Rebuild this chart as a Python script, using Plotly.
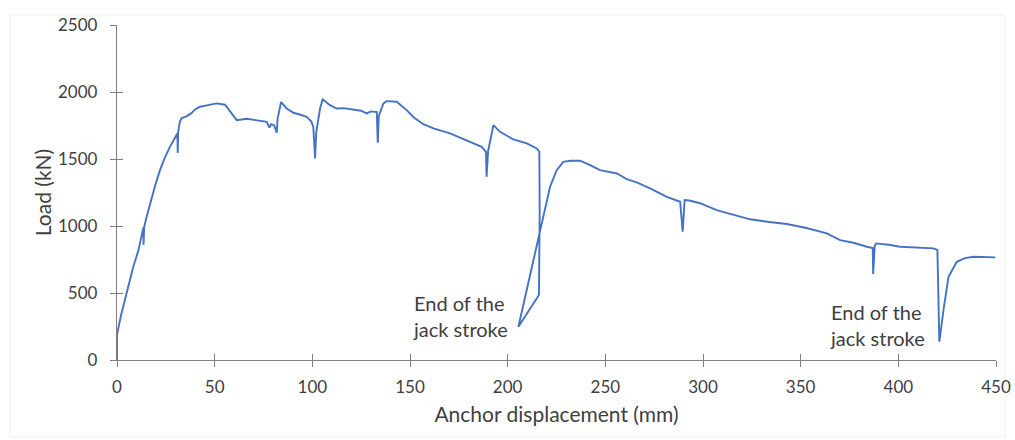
import plotly.graph_objects as go

displacement_mm = [
    0, 0, 2, 4.1, 6.2, 8.4, 11, 13.3, 13.5, 13.6, 13.9, 15, 16.9, 19.5, 22, 24.5, 27.1, 29.5,
    30.9, 31.1, 31.3, 32.2, 33.1, 35, 36.5, 38, 40, 42.5, 46, 51, 55.3, 58, 61.3, 66.4, 72,
    76.7, 78, 79, 80.5, 81.8, 82.2, 84, 86.9, 90.3, 94, 97.1, 99.5, 100.5, 101.4, 102, 104,
    105.3, 109, 112.5, 116, 121, 125, 127.8, 130, 133, 133.5, 134, 136.4, 138, 143.2, 148.3,
    152, 156.8, 162, 170.5, 179, 186.7, 188.9, 189.2, 190, 192.7, 196.1, 202.9, 209.8, 214.9,
    216.2, 216.4, 216, 205.5, 221.7, 225.1, 228.5, 232, 237, 242.2, 247.3, 251, 255.9, 258,
    261, 266, 272.9, 281.5, 288.3, 289.6, 290.6, 293, 298.5, 307, 315.6, 324.1, 334, 342.9,
    353, 363.4, 370.2, 377, 383.9, 386.9, 387.1, 387.9, 388.6, 395, 400.9, 410, 418, 420,
    421, 423.1, 425.7, 429.9, 434, 438.5, 444, 449.6,
]
load_kN = [
    0, 190, 330, 450, 580, 700, 820, 960, 990, 860, 990, 1060, 1171, 1300, 1417, 1510, 1591, 1650,
    1690, 1544, 1700, 1780, 1805, 1815, 1825, 1840, 1870, 1890, 1900, 1915, 1905, 1850, 1790, 1800, 1790,
    1778, 1735, 1760, 1750, 1696, 1800, 1925, 1877, 1845, 1830, 1815, 1780, 1740, 1504, 1700, 1880,
    1945, 1902, 1877, 1880, 1870, 1860, 1840, 1855, 1850, 1621, 1820, 1915, 1932, 1927, 1865,
    1810, 1760, 1728, 1691, 1641, 1591, 1554, 1367, 1560, 1753, 1703, 1646, 1616, 1579,
    1554, 1100, 485, 248, 1293, 1417, 1479, 1487, 1487, 1455, 1417, 1405, 1392, 1375,
    1350, 1325, 1281, 1218, 1181, 957, 1194, 1190, 1170, 1119, 1082, 1050, 1030, 1015,
    985, 945, 895, 875, 845, 835, 641, 850, 870, 860, 845, 838, 833, 821,
    137, 373, 621, 733, 760, 771, 768, 766,
]

x_ticks = [0, 50, 100, 150, 200, 250, 300, 350, 400, 450]
y_ticks = [0, 500, 1000, 1500, 2000, 2500]
annotation_text = "End of the<br>jack stroke"
annotation_points = [(150.5, 328), (363.9, 261)]

FONT = "Lato"
TXT = "#404040"
AX = "#808080"

fig = go.Figure()
fig.add_trace(go.Scatter(
    x=displacement_mm, y=load_kN, mode="lines",
    line=dict(color="#4472C4", width=1.9), showlegend=False, hoverinfo="skip",
))
# helper invisible trace for overlay axes (inside ticks -> crossing tick marks)
fig.add_trace(go.Scatter(x=[displacement_mm[0]], y=[load_kN[0]], xaxis="x2", yaxis="y2",
                         mode="markers", marker=dict(opacity=0), showlegend=False, hoverinfo="skip"))

axis_common = dict(showgrid=False, zeroline=False, showline=True, linecolor=AX, linewidth=1.3,
                   ticks="outside", ticklen=6, tickwidth=1.3, tickcolor=AX, automargin=False,
                   tickfont=dict(family=FONT, size=17, color=TXT))

fig.update_layout(
    width=1015, height=440,
    margin=dict(l=117, r=19, t=25, b=80),
    plot_bgcolor="white", paper_bgcolor="white",
    xaxis=dict(range=[0, 450], tickvals=x_ticks, ticklabelstandoff=5,
               title=dict(text="Anchor displacement (mm)", font=dict(family=FONT, size=21, color=TXT),
                          standoff=11),
               **axis_common),
    yaxis=dict(range=[0, 2500], tickvals=y_ticks, ticklabelstandoff=9,
               title=dict(text="Load (kN)", font=dict(family=FONT, size=21, color=TXT), standoff=0),
               **axis_common),
    xaxis2=dict(range=[0, 450], tickvals=x_ticks, overlaying="x", anchor="y2", showgrid=False,
                zeroline=False, showline=False, ticks="inside", ticklen=6, tickwidth=1.3,
                tickcolor=AX, showticklabels=False, automargin=False),
    yaxis2=dict(range=[0, 2500], tickvals=y_ticks, overlaying="y", anchor="x2", showgrid=False,
                zeroline=False, showline=False, ticks="inside", ticklen=6, tickwidth=1.3,
                tickcolor=AX, showticklabels=False, automargin=False),
)

for ax, ay in annotation_points:
    fig.add_annotation(x=ax, y=ay, xref="x", yref="y", text=annotation_text, showarrow=False,
                       xanchor="left", yanchor="middle", align="left",
                       font=dict(family=FONT, size=20, color=TXT))

fig.add_shape(type="rect", xref="paper", yref="paper", x0=-0.1217, x1=1.0102, y0=-0.2299, y1=1.0299,
              line=dict(color="#EFEFEF", width=1), layer="below")

fig.write_html("out.html")
